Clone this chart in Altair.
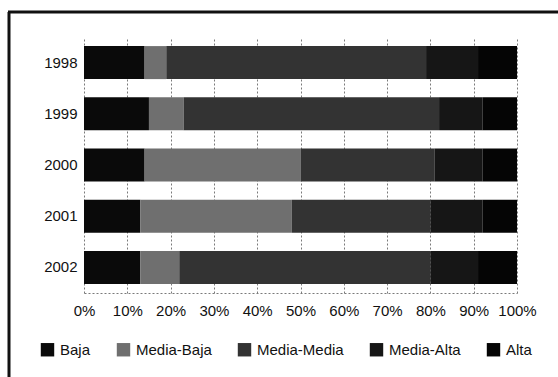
import altair as alt
import pandas as pd

# Income-level share per year (percent of total, each row sums to 100)
years = ["1998", "1999", "2000", "2001", "2002"]
levels = ["Baja", "Media-Baja", "Media-Media", "Media-Alta", "Alta"]
baja = [14, 15, 14, 13, 13]
media_baja = [5, 8, 36, 35, 9]
media_media = [60, 59, 31, 32, 58]
media_alta = [12, 10, 11, 12, 11]
alta = [9, 8, 8, 8, 9]

shades = ["#0a0a0a", "#6f6f6f", "#333333", "#161616", "#050505"]
tick_values = [i / 10 for i in range(11)]

series = [baja, media_baja, media_media, media_alta, alta]
rows = []
for lvl_idx, (lvl, vals) in enumerate(zip(levels, series)):
    for yr, v in zip(years, vals):
        rows.append({"year": yr, "level": lvl, "order": lvl_idx, "value": v})
df = pd.DataFrame(rows)

FONT = "Liberation Sans"

bars = alt.Chart(df).mark_bar().encode(
    y=alt.Y(
        "year:N",
        sort=years,
        scale=alt.Scale(paddingInner=0.355, paddingOuter=0.1775),
        axis=alt.Axis(
            title=None, ticks=False, domain=False, labelFontSize=15,
            labelFont=FONT, labelColor="#111", labelPadding=7,
        ),
    ),
    x=alt.X(
        "sum(value):Q",
        stack="normalize",
        scale=alt.Scale(domain=[0, 1], nice=False),
        axis=alt.Axis(
            title=None, values=tick_values, format=".0%", grid=True,
            gridColor="#7a7a7a", gridDash=[2, 2], gridWidth=1,
            domain=True, domainColor="#7a7a7a", domainDash=[2, 2],
            ticks=False, labelFontSize=15, labelFont=FONT,
            labelColor="#111", labelPadding=10, labelFlush=False,
        ),
    ),
    color=alt.Color(
        "level:N",
        sort=levels,
        scale=alt.Scale(domain=levels, range=shades),
        legend=alt.Legend(
            title=None, orient="none", direction="horizontal", columns=5,
            legendX=-44, legendY=305, symbolType="square", symbolSize=180,
            symbolStrokeWidth=0, labelFontSize=15, labelFont=FONT,
            labelColor="#111", labelOffset=5, columnPadding=25, padding=0,
        ),
    ),
    order=alt.Order("order:Q"),
)

# Frame lines along the top and left edge of the figure
frame_src = pd.DataFrame({"k": [0]})
top_edge = alt.Chart(frame_src).mark_rule(color="#111", strokeWidth=3).encode(
    x=alt.value(-76), x2=alt.value(474), y=alt.value(-25)
)
left_edge = alt.Chart(frame_src).mark_rule(color="#111", strokeWidth=3).encode(
    x=alt.value(-75), y=alt.value(-25), y2=alt.value(340)
)

chart = alt.layer(bars, top_edge, left_edge).properties(
    width=433,
    height=256,
    autosize=alt.AutoSizeParams(type="none"),
    padding={"left": 84, "top": 37, "right": 41, "bottom": 84},
    background="white",
).configure_view(stroke=None)

chart.save("out.html", embed_options={"renderer": "svg", "actions": False})
